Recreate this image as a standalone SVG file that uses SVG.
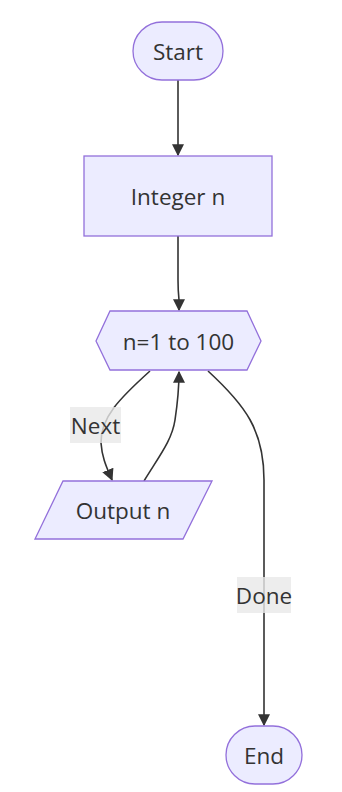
<svg xmlns="http://www.w3.org/2000/svg" width="342" height="792" viewBox="0 0 342 792">
  <style>
    .node { fill: #ECECFF; stroke: #9370DB; stroke-width: 1.3; }
    .label { font-family: "Open Sans", "DejaVu Sans", sans-serif; font-size: 22.5px; fill: #333333; text-anchor: middle; dominant-baseline: central; }
    .edge { fill: none; stroke: #333333; stroke-width: 1.6; }
    .edge-bg { fill: #e8e8e8; opacity: 0.8; }
  </style>
  <defs>
    <marker id="arrow" viewBox="0 0 10 10" refX="9" refY="5" markerWidth="12" markerHeight="12" markerUnits="userSpaceOnUse" orient="auto">
      <path d="M0,0 L10,5 L0,10 z" fill="#333333"/>
    </marker>
  </defs>

  <!-- connectors -->
  <g id="edges">
    <path class="edge" d="M178,80 L178,155" marker-end="url(#arrow)"/>
    <path class="edge" d="M178,236 L178,280 Q178,290 179,300 L179,310" marker-end="url(#arrow)"/>
    <path class="edge" d="M150,371 C120,398 100,418 101,443 C102,458 107,468 112,480" marker-end="url(#arrow)"/>
    <path class="edge" d="M144,481 C160,455 172,440 175,420 C178,400 179,385 179,372" marker-end="url(#arrow)"/>
    <path class="edge" d="M208,371 C245,405 264,430 264,480 L264,725" marker-end="url(#arrow)"/>
    <g id="edge-label-next">
      <rect class="edge-bg" x="70" y="407" width="51" height="36"/>
      <text class="label" x="95.5" y="425">Next</text>
    </g>
    <g id="edge-label-done">
      <rect class="edge-bg" x="237" y="577" width="54" height="36"/>
      <text class="label" x="264" y="595">Done</text>
    </g>
  </g>

  <g id="start">
    <rect class="node" x="133" y="22" width="90" height="58" rx="29" ry="29"/>
    <text class="label" x="178" y="51">Start</text>
  </g>

  <g id="integer">
    <rect class="node" x="84" y="156" width="188" height="80"/>
    <text class="label" x="178" y="196">Integer n</text>
  </g>

  <g id="loop">
    <polygon class="node" points="96,341 110,311 247,311 261,341 247,370 110,370"/>
    <text class="label" x="178.5" y="341">n=1 to 100</text>
  </g>

  <g id="output">
    <polygon class="node" points="63,481 212,481 183,539 35,539"/>
    <text class="label" x="123" y="510">Output n</text>
  </g>

  <g id="end">
    <rect class="node" x="226" y="726" width="76" height="58" rx="29" ry="29"/>
    <text class="label" x="264" y="755">End</text>
  </g>
</svg>
